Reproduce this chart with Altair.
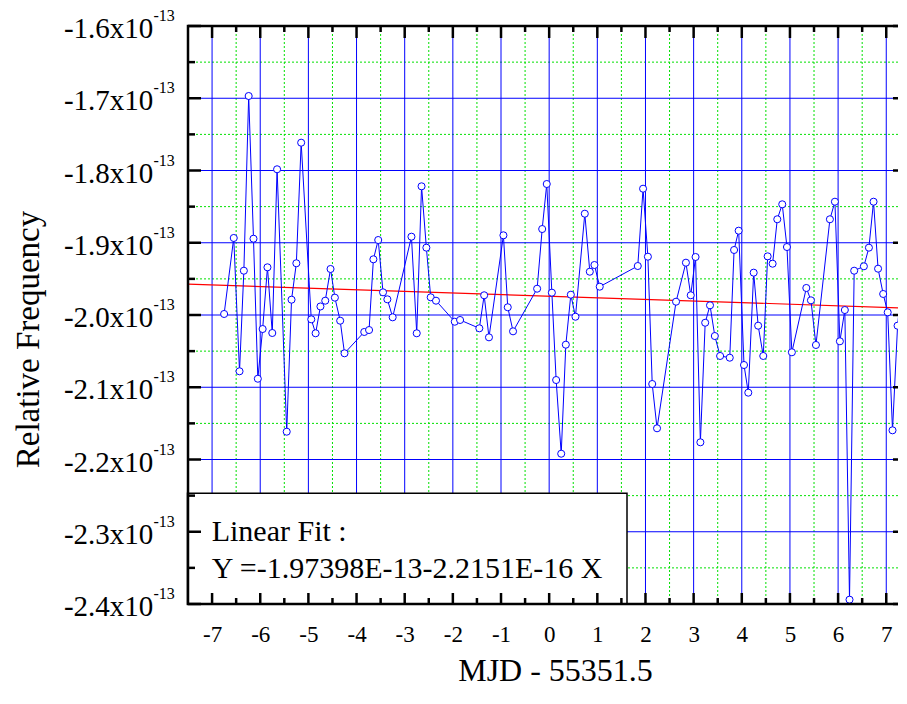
import altair as alt
import pandas as pd

# ---- data (frequency in units of 1e-13) ----
mjd = [-6.75, -6.55, -6.43, -6.34, -6.24, -6.14, -6.05, -5.95, -5.85, -5.75,
       -5.65, -5.45, -5.35, -5.25, -5.15, -4.94, -4.85, -4.75, -4.65, -4.54,
       -4.45, -4.34, -4.25, -3.84, -3.74, -3.65, -3.55, -3.45, -3.36, -3.25,
       -2.86, -2.75, -2.65, -2.55, -2.46, -2.35, -1.96, -1.85, -1.45, -1.35,
       -1.25, -0.95, -0.86, -0.75, -0.25, -0.145, -0.05, 0.056, 0.145, 0.25,
       0.346, 0.45, 0.546, 0.74, 0.844, 0.94, 1.05, 1.84, 1.95, 2.05,
       2.14, 2.24, 2.635, 2.84, 2.94, 3.04, 3.14, 3.24, 3.34, 3.44,
       3.55, 3.75, 3.84, 3.935, 4.046, 4.135, 4.247, 4.34, 4.446, 4.537,
       4.64, 4.737, 4.84, 4.938, 5.04, 5.34, 5.436, 5.54, 5.83, 5.934,
       6.037, 6.14, 6.237, 6.334, 6.535, 6.64, 6.736, 6.83, 6.936, 7.03,
       7.13, 7.235, 7.33, 7.42]
freq = [-1.9986, -1.8934, -2.0779, -1.9387, -1.6969, -1.8944, -2.0882, -2.0194, -1.9340, -2.0249,
        -1.7983, -2.1615, -1.9788, -1.9284, -1.7615, -2.0060, -2.0253, -1.9882, -1.9802, -1.9363,
        -1.9760, -2.0079, -2.0530, -2.0235, -2.0208, -1.9229, -1.8962, -1.9686, -1.9783, -2.0032,
        -1.8916, -2.0253, -1.8219, -1.9068, -1.9755, -1.9802, -2.0093, -2.0069, -2.0184, -1.9727,
        -2.0309, -1.8897, -1.9893, -2.0226, -1.9636, -1.8810, -1.8187, -1.9691, -2.0900, -2.1920,
        -2.0411, -1.9719, -2.0024, -1.8598, -1.9401, -1.9308, -1.9608, -1.9322, -1.8252, -1.9193,
        -2.0955, -2.1568, -1.9816, -1.9276, -1.9727, -1.9197, -2.1762, -2.0107, -1.9866, -2.0291,
        -2.0567, -2.0591, -1.9100, -1.8833, -2.0692, -2.1075, -1.9414, -2.0148, -2.0567, -1.9188,
        -1.9290, -1.8675, -1.8468, -1.9059, -2.0516, -1.9626, -1.9797, -2.0415, -1.8675, -1.8432,
        -2.0364, -1.9931, -2.3940, -1.9387, -1.9326, -1.9068, -1.8432, -1.9359, -1.9709, -1.9963,
        -2.1596, -2.0148, -1.9506, -1.9917]

x_major = [-7, -6, -5, -4, -3, -2, -1, 0, 1, 2, 3, 4, 5, 6, 7]
x_minor = [-6.5, -5.5, -4.5, -3.5, -2.5, -1.5, -0.5, 0.5, 1.5, 2.5, 3.5, 4.5, 5.5, 6.5]
y_major = [-1.6, -1.7, -1.8, -1.9, -2.0, -2.1, -2.2, -2.3, -2.4]
y_minor = [-1.65, -1.75, -1.85, -1.95, -2.05, -2.15, -2.25, -2.35]
y_labels = ["-1.6x10", "-1.7x10", "-1.8x10", "-1.9x10", "-2.0x10",
            "-2.1x10", "-2.2x10", "-2.3x10", "-2.4x10"]
exp_label = "-13"

fit_intercept = -1.97398   # x 1e-13
fit_slope = -0.0022151     # x 1e-13 per day
fit_x = [-7.5, 7.41]
fit_text = ["Linear Fit :", "Y =-1.97398E-13-2.2151E-16 X"]

FONT = "Liberation Serif"
W, H = 718, 578

xs = alt.Scale(domain=[-7.5, 7.41], nice=False, zero=False)
ys = alt.Scale(domain=[-2.4, -1.6], nice=False, zero=False)

df = pd.DataFrame({"x": mjd, "y": freq})
df_fit = pd.DataFrame({"x": fit_x, "y": [fit_intercept + fit_slope * v for v in fit_x]})
df_xmaj = pd.DataFrame({"x": x_major})
df_xmin = pd.DataFrame({"x": x_minor})
df_ymaj = pd.DataFrame({"y": y_major, "label": y_labels})
df_ymin = pd.DataFrame({"y": y_minor})
one = pd.DataFrame({"a": [0]})

x_axis = alt.Axis(values=x_major, labelExpr="toString(datum.value)", ticks=False, tickSize=0,
                  domain=False, grid=False, labelFont=FONT, labelFontSize=23,
                  labelColor="black", labelPadding=37, labelBaseline="alphabetic",
                  title="MJD - 55351.5", titleFont=FONT, titleFontSize=32,
                  titleFontWeight="normal", titleColor="black", titleX=367, titleY=76,
                  titleAlign="center", titleBaseline="alphabetic")
y_axis = alt.Axis(labels=False, ticks=False, tickSize=0, domain=False, grid=False,
                  title="Relative Frequency", titleFont=FONT, titleFontSize=33,
                  titleFontWeight="normal", titleColor="black", titleX=-149.5, titleY=313,
                  titleAngle=270, titleAlign="center", titleBaseline="alphabetic")


def X(f="x"):
    return alt.X(f + ":Q", scale=xs, axis=x_axis)


def Y(f="y"):
    return alt.Y(f + ":Q", scale=ys, axis=y_axis)


grid_xmin = alt.Chart(df_xmin).mark_rule(color="#00e000", strokeWidth=1, strokeDash=[2, 2]).encode(x=X())
grid_ymin = alt.Chart(df_ymin).mark_rule(color="#00e000", strokeWidth=1, strokeDash=[2, 2]).encode(y=Y())
grid_xmaj = alt.Chart(df_xmaj).mark_rule(color="#0000ff", strokeWidth=1).encode(x=X())
grid_ymaj = alt.Chart(df_ymaj).transform_filter("datum.y > -2.39 && datum.y < -1.61").mark_rule(
    color="#0000ff", strokeWidth=1).encode(y=Y())

tick_kw = dict(color="black", strokeWidth=2.5)
t_top_maj = alt.Chart(df_xmaj).mark_rule(**tick_kw).encode(x=X(), y=alt.value(0), y2=alt.value(12))
t_top_min = alt.Chart(df_xmin).mark_rule(**tick_kw).encode(x=X(), y=alt.value(0), y2=alt.value(6))
t_bot_maj = alt.Chart(df_xmaj).mark_rule(**tick_kw).encode(x=X(), y=alt.value(H), y2=alt.value(H - 11))
t_bot_min = alt.Chart(df_xmin).mark_rule(**tick_kw).encode(x=X(), y=alt.value(H), y2=alt.value(H - 6))
t_lft_maj = alt.Chart(df_ymaj).mark_rule(**tick_kw).encode(y=Y(), x=alt.value(0), x2=alt.value(13))
t_lft_min = alt.Chart(df_ymin).mark_rule(**tick_kw).encode(y=Y(), x=alt.value(0), x2=alt.value(7))
t_rgt_maj = alt.Chart(df_ymaj).mark_rule(**tick_kw).encode(y=Y(), x=alt.value(W), x2=alt.value(W - 13))
t_rgt_min = alt.Chart(df_ymin).mark_rule(**tick_kw).encode(y=Y(), x=alt.value(W), x2=alt.value(W - 7))

box = alt.Chart(one).mark_rect(fill="white", stroke="black", strokeWidth=1.5).encode(
    x=alt.value(-0.5), x2=alt.value(439), y=alt.value(467.3), y2=alt.value(H))
box_t1 = alt.Chart(one).mark_text(align="left", baseline="alphabetic", font=FONT, fontSize=30,
                                  color="black").encode(
    x=alt.value(23.7), y=alt.value(514.5), text=alt.value(fit_text[0]))
box_t2 = alt.Chart(one).mark_text(align="left", baseline="alphabetic", font=FONT, fontSize=30,
                                  color="black").encode(
    x=alt.value(23.7), y=alt.value(551.7), text=alt.value(fit_text[1]))

line = alt.Chart(df).mark_line(color="#0000ff", strokeWidth=1).encode(x=X(), y=Y())
fit = alt.Chart(df_fit).mark_line(color="#ff0000", strokeWidth=1.2).encode(x=X(), y=Y())
pts = alt.Chart(df).mark_point(shape="circle", size=50, fill="white", filled=False, opacity=1,
                               fillOpacity=1, stroke="#0000ff", strokeWidth=1).encode(x=X(), y=Y())

frame = alt.Chart(one).mark_rect(fillOpacity=0, stroke="black", strokeWidth=2.5).encode(
    x=alt.value(0), x2=alt.value(W), y=alt.value(0), y2=alt.value(H))

ylab = alt.Chart(df_ymaj).mark_text(align="right", baseline="alphabetic", font=FONT, fontSize=29,
                                    color="black", dy=12).encode(
    y=Y(), x=alt.value(-34.7), text="label:N")
ysup = alt.Chart(df_ymaj).mark_text(align="left", baseline="alphabetic", font=FONT, fontSize=16,
                                    color="black", dy=-5).encode(
    y=Y(), x=alt.value(-34.5), text=alt.value(exp_label))

chart = alt.layer(
    grid_xmin, grid_ymin, grid_xmaj, grid_ymaj,
    box, box_t1, box_t2,
    fit, line, pts,
    t_top_maj, t_top_min, t_bot_maj, t_bot_min,
    t_lft_maj, t_lft_min, t_rgt_maj, t_rgt_min,
    frame, ylab, ysup,
).properties(
    width=W, height=H,
    padding={"left": 180, "top": 18, "right": -8, "bottom": 84},
    autosize=alt.AutoSizeParams(type="none"),
    background="white",
).configure_view(stroke=None)

chart.save("out.html", embed_options={"renderer": "svg", "actions": False})
